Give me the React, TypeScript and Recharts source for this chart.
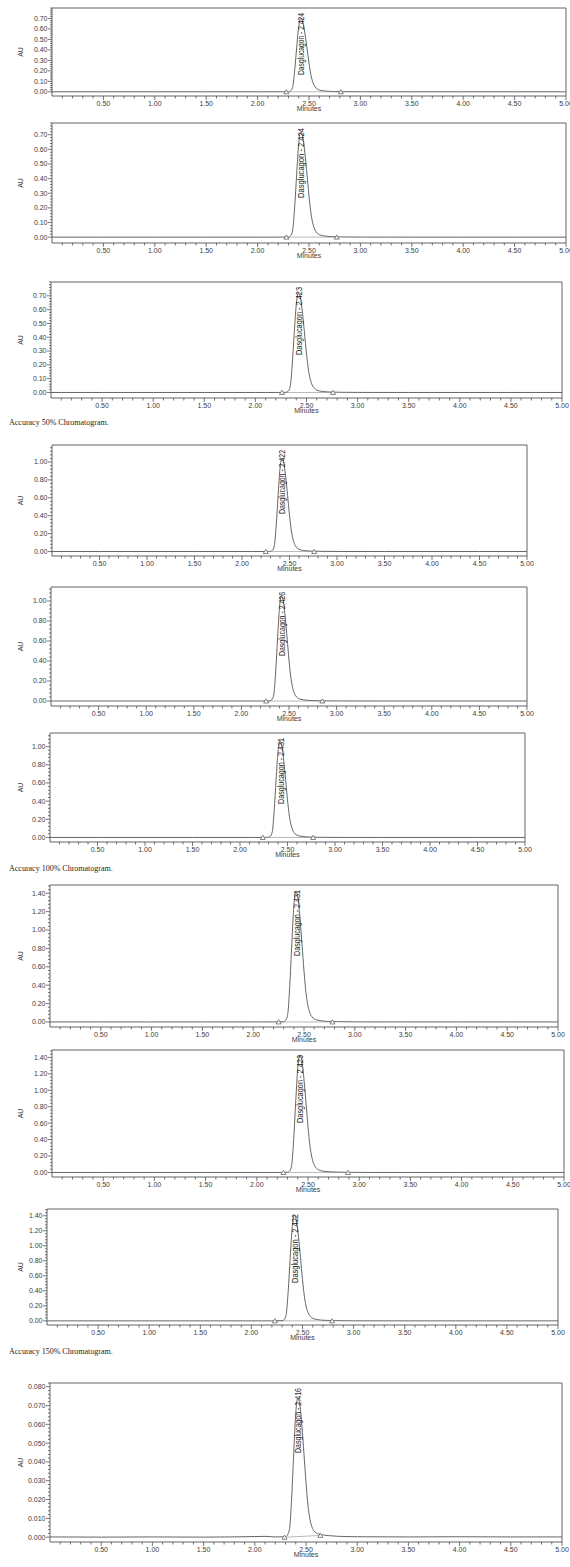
import React from 'react';
import { ComposedChart, Line, XAxis, YAxis, ReferenceArea, ReferenceLine } from 'recharts';

// retention time axis shared by every trace (min)
const minutes = [0, 0.5, 1.0, 1.5, 2.0, 2.1, 2.2, 2.3, 2.32, 2.34, 2.36, 2.38, 2.4, 2.42, 2.44, 2.46, 2.48, 2.5, 2.52, 2.54, 2.56, 2.58, 2.6, 2.65, 2.72, 2.82, 3.0, 3.5, 4.0, 4.5, 5.0];

// absorbance (AU)
const au50a = [0, 0, 0, 0, 0, 0, 0, 0.001, 0.008, 0.042, 0.196, 0.42, 0.623, 0.7, 0.665, 0.56, 0.42, 0.273, 0.154, 0.084, 0.046, 0.027, 0.017, 0.008, 0.0035, 0.0014, 0.0004, 0, 0, 0, 0];
const au50b = [0, 0, 0, 0, 0, 0, 0, 0.0015, 0.009, 0.043, 0.2, 0.43, 0.64, 0.72, 0.684, 0.576, 0.432, 0.281, 0.158, 0.086, 0.047, 0.027, 0.017, 0.008, 0.0036, 0.0014, 0.0004, 0, 0, 0, 0];
const au50c = [0, 0, 0, 0, 0, 0, 0, 0.001, 0.008, 0.041, 0.199, 0.428, 0.638, 0.72, 0.686, 0.578, 0.434, 0.282, 0.159, 0.087, 0.047, 0.028, 0.017, 0.008, 0.0036, 0.0015, 0.0004, 0, 0, 0, 0];
const au100a = [0, 0, 0, 0, 0, 0, 0, 0.002, 0.012, 0.062, 0.29, 0.624, 0.926, 1.04, 0.988, 0.832, 0.624, 0.406, 0.229, 0.125, 0.068, 0.04, 0.025, 0.011, 0.005, 0.002, 0.0005, 0, 0, 0, 0];
const au100b = [0, 0, 0, 0, 0, 0, 0, 0.002, 0.013, 0.063, 0.294, 0.63, 0.935, 1.05, 0.998, 0.84, 0.63, 0.41, 0.231, 0.126, 0.068, 0.04, 0.025, 0.012, 0.005, 0.002, 0.0005, 0, 0, 0, 0];
const au100c = [0, 0, 0, 0, 0, 0, 0, 0.002, 0.013, 0.064, 0.297, 0.636, 0.943, 1.06, 1.007, 0.848, 0.636, 0.413, 0.233, 0.127, 0.069, 0.04, 0.025, 0.012, 0.005, 0.002, 0.0005, 0, 0, 0, 0];
const au150a = [0, 0, 0, 0, 0, 0, 0, 0.003, 0.017, 0.085, 0.398, 0.852, 1.264, 1.42, 1.349, 1.136, 0.852, 0.554, 0.312, 0.17, 0.092, 0.054, 0.034, 0.016, 0.007, 0.003, 0.0007, 0, 0, 0, 0];
const au150b = [0, 0, 0, 0, 0, 0, 0, 0.003, 0.017, 0.086, 0.4, 0.858, 1.273, 1.43, 1.359, 1.144, 0.858, 0.558, 0.315, 0.172, 0.093, 0.054, 0.034, 0.016, 0.007, 0.003, 0.0007, 0, 0, 0, 0];
const au150c = [0, 0, 0, 0, 0, 0, 0, 0.003, 0.017, 0.085, 0.395, 0.846, 1.255, 1.41, 1.34, 1.128, 0.846, 0.55, 0.31, 0.169, 0.092, 0.054, 0.034, 0.016, 0.007, 0.003, 0.0007, 0, 0, 0, 0];
const auLow = [0.0001, 0, 0.0001, 0, 0.0003, 0.0004, 0.0001, 0.0002, 0.0012, 0.0047, 0.0209, 0.0445, 0.066, 0.074, 0.0703, 0.0592, 0.0444, 0.029, 0.0165, 0.0091, 0.0052, 0.0032, 0.0022, 0.0013, 0.0008, 0.0004, 0.0002, 0.0001, 0.0002, 0.0001, 0.0001];

const traces = [au50a, au50b, au50c, au100a, au100b, au100c, au150a, au150b, au150c, auLow];
const retentionTimes = [2.424, 2.424, 2.423, 2.422, 2.426, 2.431, 2.431, 2.423, 2.422, 2.416];
const peakStarts = [2.28, 2.28, 2.26, 2.25, 2.26, 2.24, 2.25, 2.26, 2.23, 2.29];
const peakEnds = [2.81, 2.77, 2.76, 2.76, 2.85, 2.77, 2.78, 2.89, 2.79, 2.64];
const startLevels = [0, 0, 0, 0, 0, 0, 0, 0, 0, -0.0001];
const endLevels = [0, 0, 0, 0, 0, 0, 0, 0, 0, 0.0009];

const xLabels = [0.5, 1.0, 1.5, 2.0, 2.5, 3.0, 3.5, 4.0, 4.5, 5.0];
const yLabels50 = [0, 0.1, 0.2, 0.3, 0.4, 0.5, 0.6, 0.7];
const yLabels100 = [0, 0.2, 0.4, 0.6, 0.8, 1.0];
const yLabels150 = [0, 0.2, 0.4, 0.6, 0.8, 1.0, 1.2, 1.4];
const yLabelsLow = [0, 0.01, 0.02, 0.03, 0.04, 0.05, 0.06, 0.07, 0.08];

const captions = ['Accuracy 50% Chromatogram.', 'Accuracy 100% Chromatogram.', 'Accuracy 150% Chromatogram.'];

const FONT = "'Liberation Sans', Arial, sans-serif";
const INK = '#3c3c3c';

// page placement of each plot frame
const layout = [
  { top: 8, axis: 96, left: 52, right: 566, y: [-0.04, 0.8], labels: yLabels50, step: 0.1, digits: 2, tag: 62 },
  { top: 123, axis: 243, left: 52, right: 566, y: [-0.04, 0.78], labels: yLabels50, step: 0.1, digits: 2, tag: 70 },
  { top: 282, axis: 398, left: 51, right: 562, y: [-0.04, 0.8], labels: yLabels50, step: 0.1, digits: 2, tag: 68 },
  { top: 445, axis: 556, left: 52, right: 527, y: [-0.05, 1.19], labels: yLabels100, step: 0.2, digits: 2, tag: 64 },
  { top: 587, axis: 706, left: 51, right: 527, y: [-0.05, 1.14], labels: yLabels100, step: 0.2, digits: 2, tag: 64 },
  { top: 733, axis: 842, left: 50, right: 525, y: [-0.05, 1.15], labels: yLabels100, step: 0.2, digits: 2, tag: 66 },
  { top: 885, axis: 1027, left: 50, right: 558, y: [-0.055, 1.49], labels: yLabels150, step: 0.2, digits: 2, tag: 66 },
  { top: 1050, axis: 1177, left: 52, right: 564, y: [-0.055, 1.49], labels: yLabels150, step: 0.2, digits: 2, tag: 68 },
  { top: 1209, axis: 1325, left: 47, right: 558, y: [-0.055, 1.49], labels: yLabels150, step: 0.2, digits: 2, tag: 69 },
  { top: 1383, axis: 1542, left: 50, right: 562, y: [-0.0026, 0.082], labels: yLabelsLow, step: 0.01, digits: 3, tag: 65 },
];
const captionTops = [418, 864, 1347];

const ladder = (step: number, max: number) => {
  const out: number[] = [];
  for (let i = 1; i * step <= max + 1e-9; i++) out.push(Math.round(i * step * 10000) / 10000);
  return out;
};
const inList = (v: number, list: number[]) => list.some((m) => Math.abs(m - v) < 1e-6);

const xTickValues = ladder(0.1, 5);

const XTick = (props: any) => {
  const { x, y, payload } = props;
  const v = payload.value as number;
  const major = inList(v, xLabels);
  return (
    <g>
      <line x1={x} x2={x} y1={y} y2={y + (major ? 4 : 2.5)} stroke={INK} strokeWidth={0.7} />
      {major && (
        <text x={x} y={y + 8} dy="0.35em" textAnchor="middle" fontSize={7} fill={INK} fontFamily={FONT}>
          {v.toFixed(2)}
        </text>
      )}
    </g>
  );
};

const YTick = (props: any) => {
  const { x, y, payload, labels, digits } = props;
  const v = payload.value as number;
  const major = inList(v, labels);
  return (
    <g>
      <line x1={x - (major ? 4 : 2)} x2={x} y1={y} y2={y} stroke={INK} strokeWidth={0.7} />
      {major && (
        <text x={x - 4.5} y={y} dy="0.35em" textAnchor="end" fontSize={7} fill={INK} fontFamily={FONT}>
          {v.toFixed(digits)}
        </text>
      )}
    </g>
  );
};

const AuTitle = (props: any) => {
  const vb = props.viewBox;
  if (!vb) return null;
  const cy = vb.y + vb.height / 2;
  return (
    <text transform={`translate(23,${cy}) rotate(-90)`} textAnchor="middle" fontSize={7} fill={INK} fontFamily={FONT}>
      AU
    </text>
  );
};

const PeakTag = (props: any) => {
  const { viewBox, text, len } = props;
  if (!viewBox) return null;
  const x = viewBox.x + 3.2;
  const y = viewBox.y + 5;
  return (
    <text
      transform={`translate(${x},${y}) rotate(-90)`}
      textAnchor="end"
      fontSize={9}
      fill="#222"
      fontFamily="'Liberation Sans Narrow', 'Liberation Sans', sans-serif"
      textLength={len}
      lengthAdjust="spacingAndGlyphs"
    >
      {text}
    </text>
  );
};

const Tri = (props: any) => {
  const { cx, cy, index } = props;
  return (
    <path key={index} d={`M${cx - 2.5},${cy + 2} L${cx + 2.5},${cy + 2} L${cx},${cy - 2.2} Z`} fill="#fff" stroke="#555" strokeWidth={0.7} />
  );
};

const Chromatogram = ({ i }: { i: number }) => {
  const p = layout[i];
  const rows = minutes.map((t, k) => ({ t, au: traces[i][k] }));
  const base = [
    { t: peakStarts[i], b: startLevels[i] },
    { t: peakEnds[i], b: endLevels[i] },
  ];
  const mt = 6;
  const xh = 15;
  const plotH = p.axis - p.top;
  const yTicks = [0, ...ladder(p.step / 5, p.y[1])];
  return (
    <div style={{ position: 'absolute', left: 0, top: p.top - mt }}>
      <ComposedChart width={p.right + 8} height={mt + plotH + xh} data={rows} margin={{ top: mt, right: 8, bottom: 0, left: 0 }}>
        <XAxis
          type="number"
          dataKey="t"
          domain={[0, 5]}
          ticks={xTickValues}
          interval={0}
          allowDataOverflow
          axisLine={false}
          tickLine={false}
          tickSize={0}
          tickMargin={0}
          height={xh}
          tick={XTick}
          label={{ value: 'Minutes', position: 'insideBottom', offset: 0, fontSize: 7, fill: INK, fontFamily: FONT }}
        />
        <YAxis
          type="number"
          domain={p.y}
          ticks={yTicks}
          interval={0}
          allowDataOverflow
          axisLine={false}
          tickLine={false}
          tickSize={0}
          tickMargin={0}
          width={p.left}
          tick={(tp: any) => <YTick {...tp} labels={p.labels} digits={p.digits} />}
          label={<AuTitle />}
        />
        <ReferenceArea x1={0} x2={5} y1={p.y[0]} y2={p.y[1]} fill="none" stroke={INK} strokeWidth={0.8} ifOverflow="visible" />
        <Line dataKey="au" type="monotone" stroke="#555" strokeWidth={0.9} dot={false} isAnimationActive={false} />
        <Line data={base} dataKey="b" type="linear" stroke="#888" strokeWidth={0.6} dot={Tri} isAnimationActive={false} />
        <ReferenceLine
          x={retentionTimes[i]}
          stroke="none"
          ifOverflow="visible"
          label={<PeakTag text={`Dasglucagon - ${retentionTimes[i].toFixed(3)}`} len={p.tag} />}
        />
      </ComposedChart>
    </div>
  );
};

export default function App() {
  return (
    <div style={{ position: 'absolute', left: 0, top: 0, width: 570, height: 1567, overflow: 'hidden', background: '#fff' }}>
      {layout.map((_, i) => (
        <Chromatogram key={i} i={i} />
      ))}
      {captions.map((c, k) => (
        <div
          key={c}
          style={{ position: 'absolute', left: 9, top: captionTops[k], fontFamily: "'Liberation Serif', serif", fontSize: 8, color: '#222', whiteSpace: 'nowrap' }}
        >
          {c}
        </div>
      ))}
    </div>
  );
}
